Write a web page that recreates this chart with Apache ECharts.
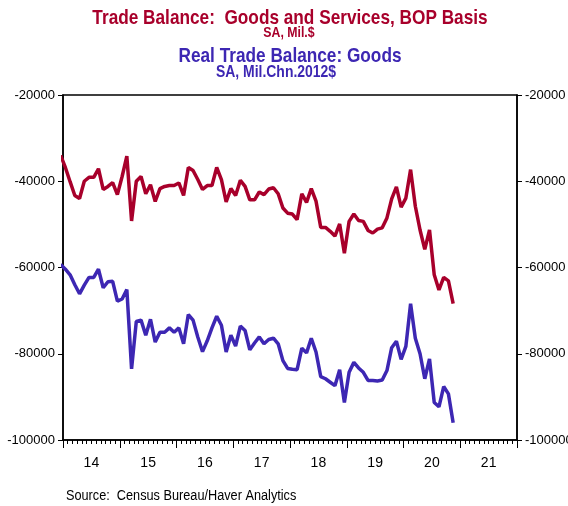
<!DOCTYPE html>
<html>
<head>
<meta charset="utf-8">
<script src="https://cdn.jsdelivr.net/npm/echarts@6/dist/echarts.min.js"></script>
<style>
html,body{margin:0;padding:0;background:#fff;}
#c{width:568px;height:506px;}
</style>
</head>
<body>
<div id="c"></div>
<script>
// Monthly, Dec 2013 through Nov 2020
const startYear = 2013, startMonth = 12;
const yearLabels = ['14','15','16','17','18','19','20','21'];
const yTicks = [-100000, -80000, -60000, -40000, -20000];

const tradeBalance = [
  -34000,
  -36800, -40100, -43300, -44000, -40000, -39100, -39100, -37100, -41900, -41200, -40300, -43100,
  -38900, -34200, -49200, -40000, -38900, -42900, -40800, -44700, -41700, -41200, -41000, -41000,
  -40400, -43300, -36800, -37500, -39600, -41900, -41000, -41000, -36800, -39600, -44800, -41700,
  -43300, -39800, -41200, -44300, -44300, -42500, -43100, -41800, -41500, -42900, -46200, -47400,
  -47600, -48900, -42900, -44900, -41700, -44600, -50700, -50700, -51600, -52700, -49900, -56700,
  -49300, -47600, -49100, -49300, -51400, -52000, -51100, -50800, -48500, -44100, -41300, -46000,
  -43900, -37300, -45800, -51300, -55800, -51300, -61700, -65200, -62300, -63100, -68400
];
const realGoods = [
  -59300,
  -60400, -61700, -64000, -66100, -64100, -62300, -62300, -60400, -64700, -63300, -63200, -67800,
  -67300, -65100, -83500, -72500, -72200, -75700, -72000, -77300, -75000, -75000, -74000, -75000,
  -74000, -77700, -70900, -72200, -76100, -79500, -77000, -74000, -71300, -73400, -79600, -75700,
  -78200, -73600, -74600, -79100, -77500, -76100, -77700, -76700, -76400, -77700, -81600, -83400,
  -83600, -83700, -78700, -79800, -76400, -79600, -85300, -85800, -86600, -87400, -83700, -91300,
  -84300, -82000, -83300, -84300, -86200, -86200, -86300, -86100, -83900, -78600, -77100, -81300,
  -78300, -68400, -76400, -80000, -85800, -81200, -91300, -92300, -87600, -89300, -96000
];

// months since Jan 2014, plotted at mid-month
function monthPos(i){ return (startYear - 2014) * 12 + (startMonth - 1) + i + 0.5; }
const redData = tradeBalance.map((v,i)=>[monthPos(i), v]);
const blueData = realGoods.map((v,i)=>[monthPos(i), v]);

const RED = '#a8002b', BLUE = '#3d27b3';
const SANS = "'Liberation Sans',Arial,sans-serif";
const SQ = 0.82; // horizontal squeeze to mimic the narrow typeface

const chart = echarts.init(document.getElementById('c'), null, {renderer:'canvas'});
const yAxisCommon = {
  type:'value', min: yTicks[0], max: yTicks[yTicks.length-1], interval: 20000,
  axisLine:{show:true, lineStyle:{color:'#000', width:1.5}},
  axisTick:{show:true, length:5, lineStyle:{color:'#000'}},
  axisLabel:{color:'#000', fontSize:13, fontFamily:SANS, margin:8, formatter:(v)=>String(v)},
  splitLine:{show:false}
};
function txt(x, y, text, color, font, align){
  return {type:'text', x:x, y:y, scaleX:SQ, silent:true,
    style:{text:text, fill:color, font:font, textAlign:align||'center', textVerticalAlign:'middle'}};
}
chart.setOption({
  animation:false,
  backgroundColor:'#fff',
  grid:{left:63, right:51, top:95, bottom:66, show:true, borderColor:'#000', borderWidth:1.5,
        containLabel:false, outerBoundsMode:'none'},
  graphic:[
    txt(290, 18, 'Trade Balance:  Goods and Services, BOP Basis', RED, "bold 21px "+SANS),
    txt(289, 33, 'SA, Mil.$', RED, "bold 15px "+SANS),
    txt(290, 56, 'Real Trade Balance: Goods', BLUE, "bold 21px "+SANS),
    txt(276, 72, 'SA, Mil.Chn.2012$', BLUE, "bold 17px "+SANS),
    txt(66, 496, 'Source:  Census Bureau/Haver Analytics', '#000', "15.5px "+SANS, 'left')
  ],
  xAxis:[
    {type:'value', min:0, max:96, interval:12, position:'bottom',
     axisLine:{show:true, onZero:false, lineStyle:{color:'#000', width:1.5}},
     axisTick:{show:true, length:8, lineStyle:{color:'#000'}},
     minorTick:{show:true, splitNumber:12, length:4, lineStyle:{color:'#000'}},
     axisLabel:{show:false}, splitLine:{show:false}},
    {type:'category', data:yearLabels, position:'bottom', boundaryGap:true,
     axisLine:{show:false}, axisTick:{show:false},
     axisLabel:{color:'#000', fontSize:14, fontFamily:SANS, margin:16}, splitLine:{show:false}}
  ],
  yAxis:[
    Object.assign({}, yAxisCommon, {position:'left'}),
    Object.assign({}, yAxisCommon, {position:'right'})
  ],
  series:[
    {type:'line', data:redData, xAxisIndex:0, yAxisIndex:0, showSymbol:false, clip:true,
     lineStyle:{color:RED, width:3.5}, itemStyle:{color:RED}},
    {type:'line', data:blueData, xAxisIndex:0, yAxisIndex:0, showSymbol:false, clip:true,
     lineStyle:{color:BLUE, width:3.5}, itemStyle:{color:BLUE}}
  ]
});
</script>
</body>
</html>
